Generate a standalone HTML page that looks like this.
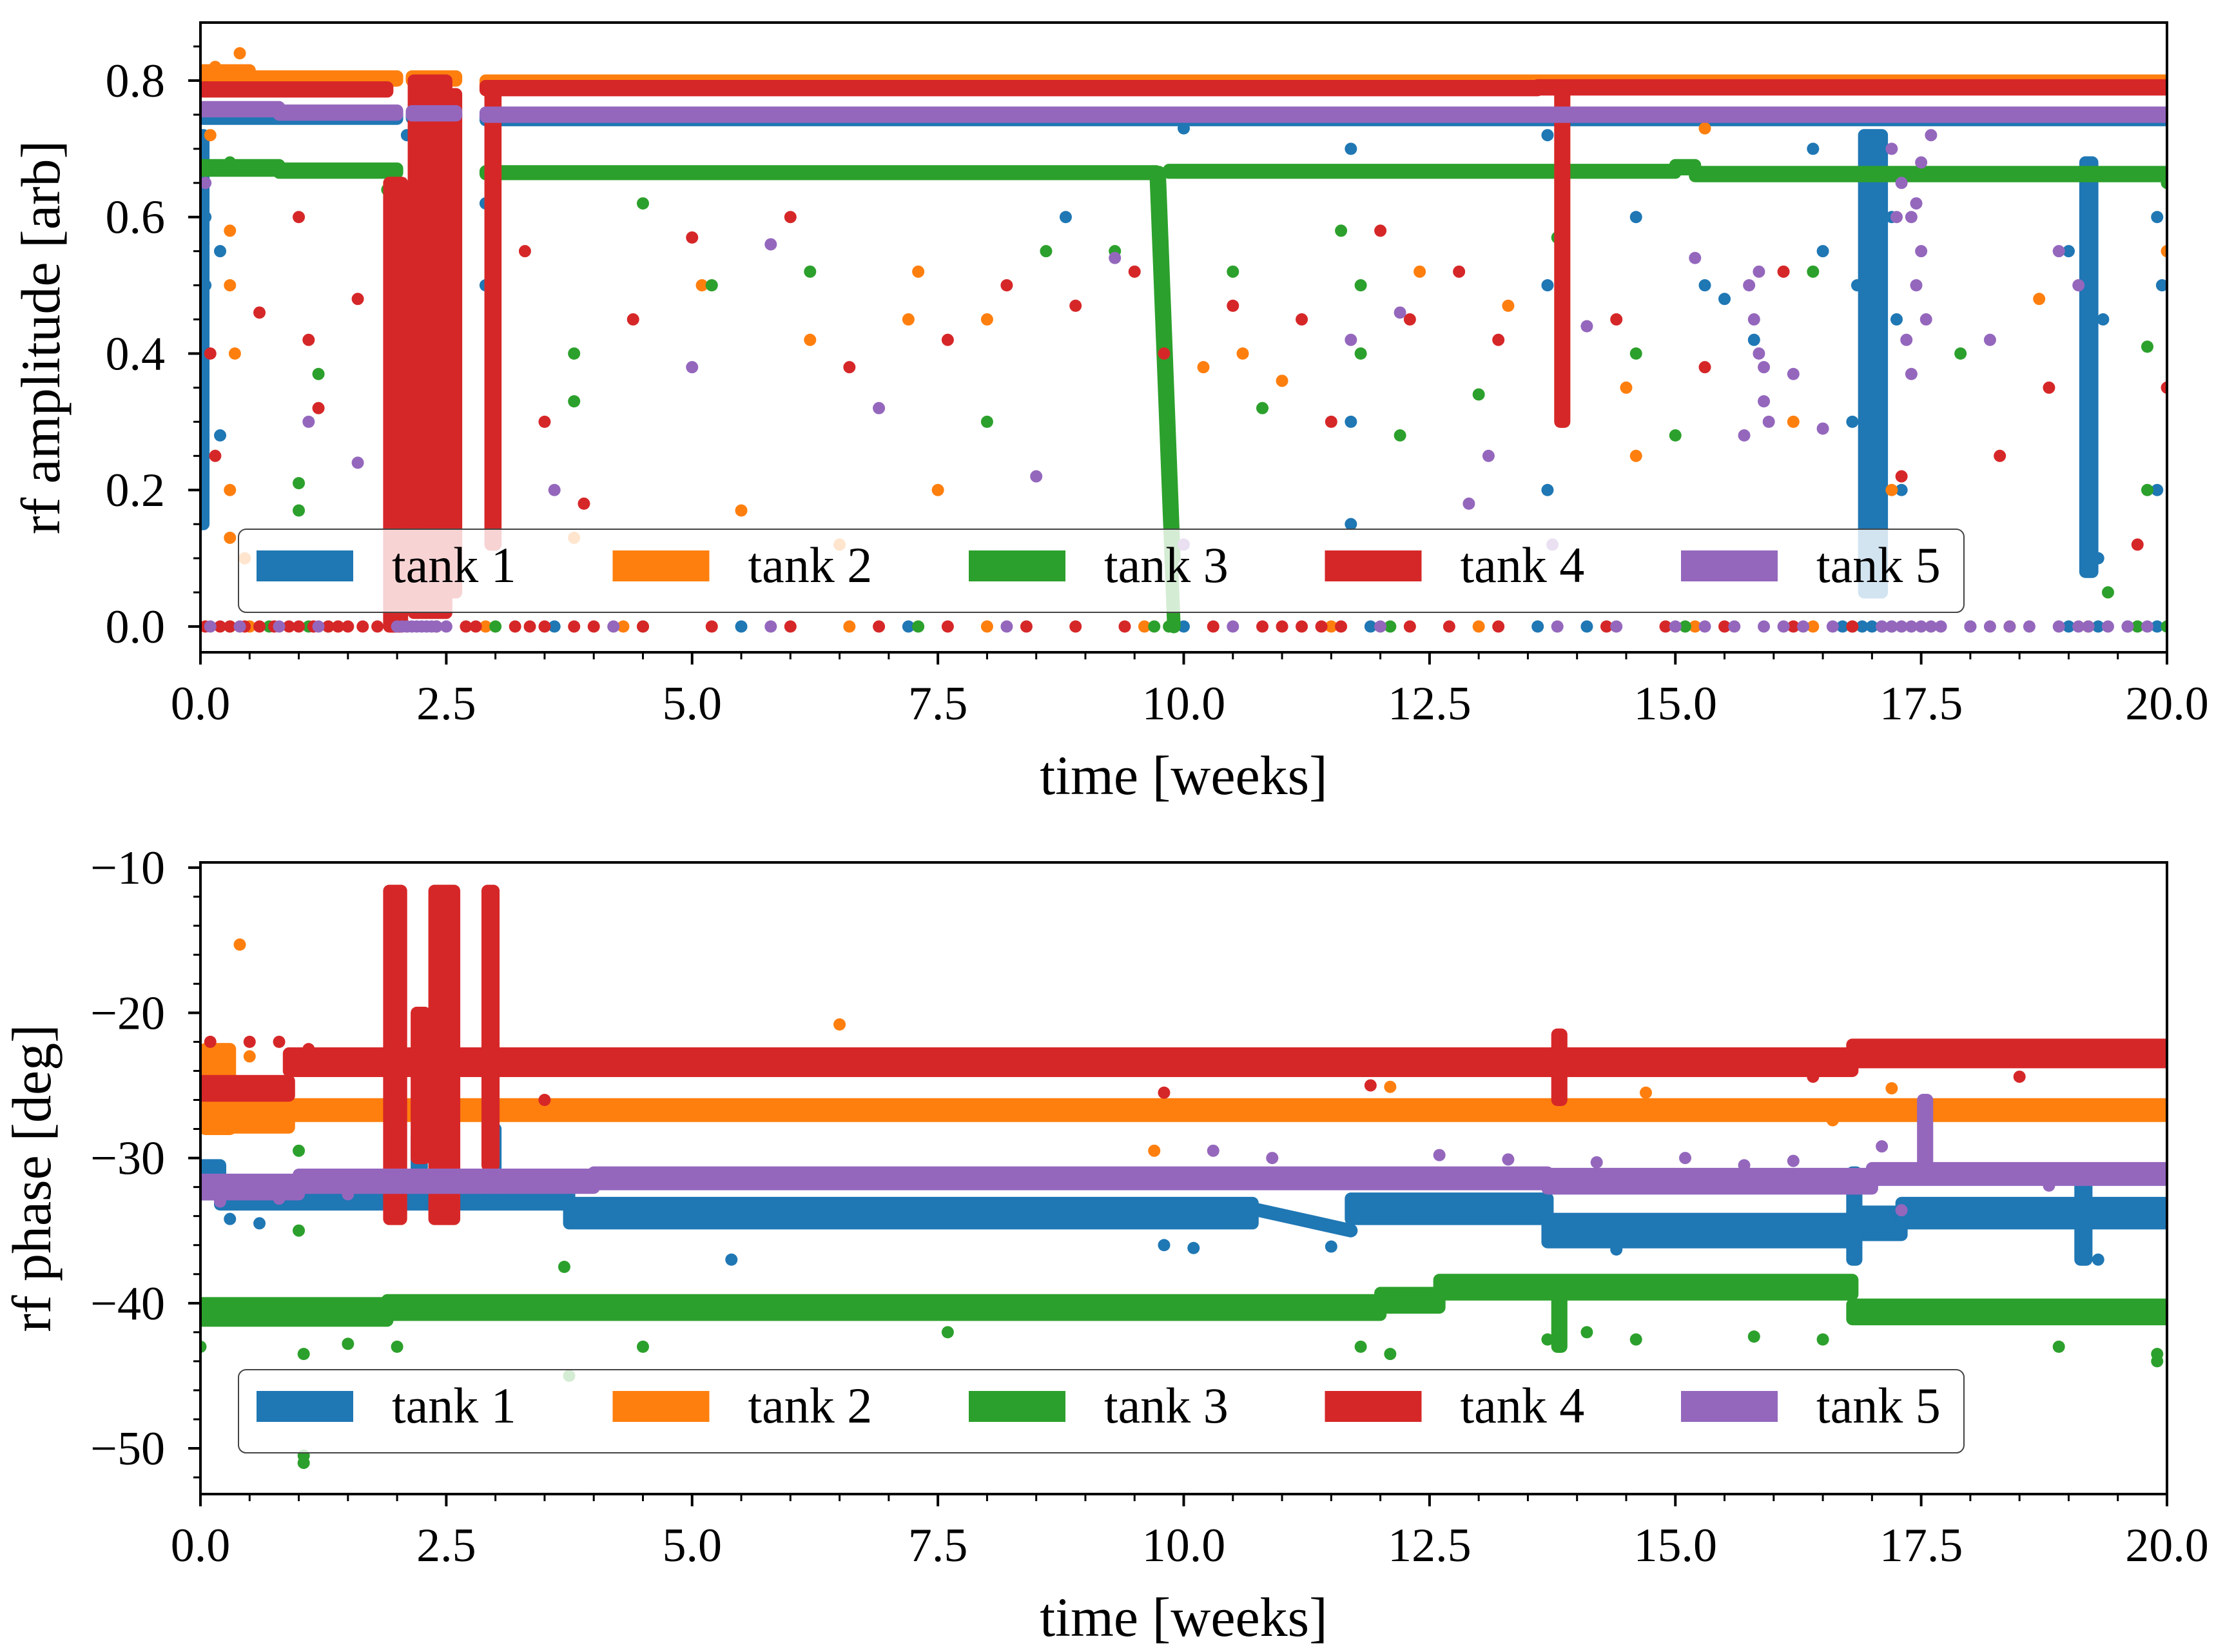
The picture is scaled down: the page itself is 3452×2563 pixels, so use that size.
<!DOCTYPE html>
<html><head><meta charset="utf-8"><style>
html,body{margin:0;padding:0;background:#fff;}
svg{display:block;}
text{font-family:"Liberation Serif",serif;fill:#000;}
</style></head>
<body>
<svg id="fig" width="3452" height="2563" viewBox="0 0 3452 2563" xmlns="http://www.w3.org/2000/svg">
<rect x="0" y="0" width="3452" height="2563" fill="#fff"/>
</svg>
<script>
// ---------- data ----------
const tankNames = ["tank 1","tank 2","tank 3","tank 4","tank 5"];
const tankColors = ["#1f77b4","#ff7f0e","#2ca02c","#d62728","#9467bd"];
const xTicks = [0,2.5,5,7.5,10,12.5,15,17.5,20];
const xTickLabels = ["0.0","2.5","5.0","7.5","10.0","12.5","15.0","17.5","20.0"];
const ampTicks = [0,0.2,0.4,0.6,0.8];
const ampTickLabels = ["0.0","0.2","0.4","0.6","0.8"];
const phTicks = [-50,-40,-30,-20,-10];
const phTickLabels = ["\u221250","\u221240","\u221230","\u221220","\u221210"];

// amplitude: horizontal bands [tank, t0, t1, level, halfwidth]
const ampBands = [
 [0,0,2.0,0.747,0.003],[0,2.15,2.6,0.748,0.003],[0,2.9,20,0.745,0.003],
 [1,0,0.5,0.805,0.01],[1,0.5,2.0,0.803,0.003],[1,2.15,2.6,0.803,0.003],[1,2.9,20,0.797,0.003],
 [2,0,0.8,0.672,0.004],[2,0.8,2.0,0.668,0.003],[2,2.9,9.72,0.665,0.002],[2,9.85,15.0,0.667,0.002],[2,15.0,15.2,0.673,0.003],[2,15.2,20,0.663,0.003],
 [3,0,1.9,0.787,0.003],[3,2.9,13.6,0.789,0.003],[3,13.6,20,0.79,0.003],
 [4,0,0.8,0.758,0.003],[4,0.8,2.0,0.753,0.003],[4,2.15,2.6,0.752,0.003],[4,2.9,20,0.75,0.003]
];
// amplitude: vertical bursts [tank, t0, t1, ymin, ymax]
const ampBursts = [
 [3,1.92,2.05,0.0,0.65],[3,2.17,2.5,0.02,0.8],[3,2.3,2.6,0.05,0.78],[3,2.95,3.0,0.12,0.78],
 [3,13.83,13.87,0.3,0.79],[0,16.92,17.1,0.05,0.72],[0,19.17,19.24,0.08,0.68],[0,0.0,0.03,0.15,0.72]
];
// amplitude: line segments (tank, t0, y0, t1, y1)
const ampLines = [[2,9.72,0.665,9.9,0.0],[2,9.75,0.665,9.9,0.1]];
// amplitude: isolated points per tank  [t, value]
const ampPts0 = [[0.05,0.6],[0.05,0.5],[0.2,0.55],[0.2,0.28],[2.1,0.72],[2.1,0.5],[2.9,0.62],[2.9,0.5],[8.8,0.6],[10,0.73],[11.7,0.15],[11.7,0.3],[11.7,0.7],[13.7,0.2],[13.7,0.5],[13.7,0.72],[15.3,0.5],[15.5,0.48],[16.5,0.55],[16.4,0.7],[15.8,0.42],[14.6,0.6],[19.9,0.2],[19.95,0.5],[19.9,0.6],[16.8,0.3],[17.2,0.6],[17.3,0.2],[19.0,0.55],[19.3,0.1],[19.35,0.45],[16.85,0.5],[17.25,0.45]];
const ampPts1 = [[0.1,0.72],[0.3,0.58],[0.3,0.5],[0.35,0.4],[0.3,0.2],[0.3,0.13],[0.45,0.1],[0.15,0.82],[0.4,0.84],[5.1,0.5],[6.2,0.42],[6.5,0.12],[7.2,0.45],[7.3,0.52],[7.5,0.2],[8.0,0.45],[10.2,0.38],[10.6,0.4],[11.0,0.36],[12.4,0.52],[13.3,0.47],[14.5,0.35],[14.6,0.25],[15.3,0.73],[16.2,0.3],[17.2,0.2],[18.7,0.48],[20,0.55],[5.5,0.17],[3.8,0.13]];
const ampPts2 = [[0.3,0.68],[1.0,0.21],[1.0,0.17],[1.2,0.37],[1.9,0.64],[3.8,0.4],[3.8,0.33],[4.5,0.62],[5.2,0.5],[6.2,0.52],[8.0,0.3],[8.6,0.55],[9.3,0.55],[10.5,0.52],[10.8,0.32],[11.6,0.58],[11.8,0.5],[11.8,0.4],[12.2,0.28],[13.0,0.34],[13.8,0.57],[14.6,0.4],[15.0,0.28],[16.4,0.52],[17.9,0.4],[19.4,0.05],[19.8,0.41],[19.8,0.2],[20,0.65]];
const ampPts3 = [[0.1,0.4],[0.15,0.25],[0.6,0.46],[1.0,0.6],[1.1,0.42],[1.2,0.32],[1.6,0.48],[3.3,0.55],[3.5,0.3],[3.9,0.18],[4.4,0.45],[5.0,0.57],[6.0,0.6],[6.6,0.38],[7.6,0.42],[8.2,0.5],[8.9,0.47],[9.5,0.52],[9.8,0.4],[10.5,0.47],[11.2,0.45],[11.5,0.3],[12.0,0.58],[12.3,0.45],[12.8,0.52],[13.2,0.42],[14.4,0.45],[15.3,0.38],[16.1,0.52],[17.3,0.22],[18.3,0.25],[18.8,0.35],[19.7,0.12],[20,0.35]];
const ampPts4 = [[0.05,0.65],[1.1,0.3],[1.6,0.24],[3.6,0.2],[5.0,0.38],[5.8,0.56],[6.9,0.32],[8.5,0.22],[9.3,0.54],[10.0,0.12],[11.7,0.42],[12.2,0.46],[13.1,0.25],[14.1,0.44],[15.2,0.54],[15.9,0.33],[16.2,0.37],[16.5,0.29],[17.4,0.37],[18.2,0.42],[18.9,0.55],[19.1,0.5],[13.75,0.12],[12.9,0.18],
 [15.75,0.5],[15.8,0.45],[15.85,0.4],[15.9,0.38],[15.95,0.3],[15.7,0.28],[15.85,0.52],[17.2,0.7],[17.3,0.65],[17.4,0.6],[17.5,0.55],[17.45,0.5],[17.55,0.45],[17.35,0.42],[17.5,0.68],[17.6,0.72],[17.25,0.6],[17.45,0.62]];
// zero-value dots per tank (times)
const ampZeros0 = [3.6,5.5,7.2,10.0,11.9,13.6,14.1,16.9,17.0,17.2,19.0,19.3,19.6,19.9,16.7,17.1,18.0];
const ampZeros1 = [0.3,1.4,4.3,6.6,8.0,9.6,11.5,13.0,15.2,16.4,18.4,19.2,0.5,2.9];
const ampZeros2 = [0.3,0.7,1.1,1.3,3.0,4.5,7.3,9.7,9.85,12.1,15.1,16.8,19.7,20];
const ampZeros3 = [0.05,0.2,0.3,0.45,0.6,0.75,0.9,1.0,1.15,1.3,1.4,1.5,1.65,1.8,2.1,2.4,2.7,2.8,3.2,3.35,3.5,3.8,4.0,4.5,5.2,6.0,6.9,7.6,8.4,8.9,9.4,10.3,10.8,11.0,11.2,11.4,11.6,12.3,12.7,13.2,14.3,14.9,15.5,16.2,16.8];
const ampZeros4 = [0.1,0.4,0.8,1.2,2.0,2.05,2.1,2.15,2.2,2.25,2.3,2.35,2.4,2.5,4.2,5.8,8.2,10.5,12.0,13.8,14.4,15.0,15.3,15.6,15.9,16.1,16.3,16.6,17.1,17.2,17.3,17.4,17.5,17.6,17.7,18.0,18.2,18.4,18.6,18.9,19.1,19.2,19.4,19.6,19.8];

// phase: horizontal bands [tank, t0, t1, level, halfwidth]
const phBands = [
 [0,0.0,0.2,-31.5,1.0],[0,0.2,3.75,-32.6,0.6],[0,3.75,10.7,-33.8,0.7],[0,11.7,13.7,-33.5,0.7],[0,13.7,16.8,-35.0,0.8],[0,16.8,17.3,-34.5,0.8],[0,17.3,20,-33.8,0.7],
 [1,0,0.9,-27.0,0.9],[1,0.9,20,-26.7,0.4],
 [2,0,1.9,-40.6,0.6],[2,1.9,12.0,-40.3,0.5],[2,12.0,12.6,-39.8,0.5],[2,12.6,16.8,-38.9,0.5],[2,16.8,20,-40.6,0.5],
 [3,0,0.9,-25.2,0.5],[3,0.9,16.8,-23.4,0.6],[3,16.8,20,-22.8,0.6],
 [4,0,1.0,-32.0,0.5],[4,1.0,4.0,-31.6,0.45],[4,4.0,13.7,-31.4,0.4],[4,13.7,17.0,-31.6,0.5],[4,17.0,20,-31.1,0.4]
];
const phBursts = [
 [3,1.92,2.04,-34.2,-11.6],[3,2.38,2.58,-34.2,-11.6],[3,2.92,2.98,-30.5,-11.6],[3,2.2,2.28,-30,-20],
 [1,0.05,0.3,-28,-22.5],[0,2.2,2.25,-32.5,-28.5],[0,2.95,3.0,-33,-28],
 [4,17.52,17.56,-31,-26.0],[0,19.12,19.18,-37,-31],[0,16.8,16.84,-37,-31],[2,13.8,13.84,-43,-38.5],[3,13.8,13.84,-26,-21.5]
];
const phLines = [[0,10.7,-33.5,11.7,-35.0]];
const phPts0 = [[0.6,-34.5],[0.3,-34.2],[1.9,-32],[5.4,-37],[9.8,-36],[10.1,-36.2],[11.5,-36.1],[14.4,-36.3],[16.5,-35.6],[19.3,-37]];
const phPts1 = [[0.4,-15.3],[0.5,-23],[6.5,-20.8],[9.7,-29.5],[12.1,-25.1],[14.7,-25.5],[16.6,-27.4],[17.2,-25.2]];
const phPts2 = [[0.0,-43],[1.0,-29.5],[1.0,-31.5],[1.0,-35],[1.05,-43.5],[1.05,-51],[1.05,-50.5],[1.5,-42.8],[2.0,-43],[3.7,-37.5],[3.75,-45],[4.5,-43],[7.6,-42],[11.8,-43],[12.1,-43.5],[13.7,-42.5],[14.1,-42],[14.6,-42.5],[15.8,-42.3],[16.5,-42.5],[18.9,-43],[19.9,-43.5],[19.9,-44]];
const phPts3 = [[0.1,-22],[0.5,-22],[0.8,-22],[1.1,-22.5],[1.6,-23],[3.5,-26],[9.8,-25.5],[11.9,-25],[16.4,-24.4],[18.5,-24.4]];
const phPts4 = [[0.2,-33],[0.8,-32.8],[1.5,-32.5],[10.3,-29.5],[10.9,-30],[12.6,-29.8],[13.3,-30.1],[14.2,-30.3],[15.1,-30],[15.7,-30.5],[16.2,-30.2],[17.3,-33.6],[17.1,-29.2],[18.8,-31.9]];

// ---------- layout ----------
const svg = document.getElementById('fig');
const NS = "http://www.w3.org/2000/svg";
const X0 = 311, X1 = 3362;
const R = 9.5;
function xs(t){ return X0 + (t - 0) / 20 * (X1 - X0); }
const P1 = {top:35, bottom:1012, vmin:-0.0378, vmax:0.885};
const P2 = {top:1338, bottom:2318, vmin:-53.15, vmax:-9.64};
function ys(P, v){ return P.bottom - (v - P.vmin) / (P.vmax - P.vmin) * (P.bottom - P.top); }
function mk(tag, attrs, parent){
  const e = document.createElementNS(NS, tag);
  for (const k in attrs) e.setAttribute(k, attrs[k]);
  (parent || svg).appendChild(e);
  return e;
}

function drawPanel(P, name, bands, bursts, lines, ptsList, zerosList, yTicks, yTickLabels, minorStep, yTitle, yTitleX){
  const g = mk('g', {});
  
  
  const clipId = name + '-clip';
  const cp = mk('clipPath', {id: clipId}, g);
  mk('rect', {x: X0, y: P.top, width: X1 - X0, height: P.bottom - P.top}, cp);
  for (let k = 0; k < 5; k++){
    const sg = mk('g', {'clip-path': 'url(#' + clipId + ')', fill: tankColors[k], stroke: 'none'}, g);
    
    
    bands.filter(b => b[0] === k).forEach(b => {
      const y1 = ys(P, b[3] + b[4]) - R, y2 = ys(P, b[3] - b[4]) + R;
      const r = mk('rect', {x: xs(b[1]) - R, y: y1, width: xs(b[2]) - xs(b[1]) + 2*R, height: y2 - y1, rx: R}, sg);
      
      
    });
    bursts.filter(b => b[0] === k).forEach(b => {
      const y1 = ys(P, b[4]) - R, y2 = ys(P, b[3]) + R;
      const r = mk('rect', {x: xs(b[1]) - R, y: y1, width: xs(b[2]) - xs(b[1]) + 2*R, height: y2 - y1, rx: R}, sg);
      
      
    });
    lines.filter(l => l[0] === k).forEach(l => {
      const ln = mk('line', {x1: xs(l[1]), y1: ys(P, l[2]), x2: xs(l[3]), y2: ys(P, l[4]), stroke: tankColors[k], 'stroke-width': 2*R + 2, 'stroke-linecap': 'round'}, sg);
      
      
    });
    ptsList[k].forEach(p => {
      const c = mk('circle', {cx: xs(p[0]), cy: ys(P, p[1]), r: R}, sg);
      
      
    });
    (zerosList ? zerosList[k] : []).forEach(t => {
      const c = mk('circle', {cx: xs(t), cy: ys(P, 0), r: R}, sg);
      
      
    });
  }
  const fr = mk('rect', {x: X0, y: P.top, width: X1 - X0, height: P.bottom - P.top, fill: 'none', stroke: '#000', 'stroke-width': 4});
  
  
  const xg = mk('g', {});
  
  
  for (let t = 0; t <= 20.001; t += 0.5){
    const major = Math.abs(t/2.5 - Math.round(t/2.5)) < 1e-6;
    mk('line', {x1: xs(t), x2: xs(t), y1: P.bottom, y2: P.bottom + (major ? 19 : 11), stroke: '#000', 'stroke-width': major ? 4 : 3}, xg);
  }
  xTicks.forEach((t, i) => {
    const tx = mk('text', {x: xs(t), y: P.bottom + 104, 'font-size': 74, 'text-anchor': 'middle'}, xg);
    tx.textContent = xTickLabels[i];
    
    
  });
  const xt = mk('text', {x: (X0+X1)/2, y: P.bottom + 220, 'font-size': 86, 'text-anchor': 'middle'});
  xt.textContent = 'time [weeks]';
  
  
  const yg = mk('g', {});
  
  
  const lo = Math.ceil(P.vmin / minorStep), hi = Math.floor(P.vmax / minorStep);
  for (let i = lo; i <= hi; i++){
    const v = i * minorStep;
    const major = yTicks.some(tk => Math.abs(tk - v) < minorStep * 0.01);
    mk('line', {x1: X0, x2: X0 - (major ? 19 : 11), y1: ys(P, v), y2: ys(P, v), stroke: '#000', 'stroke-width': major ? 4 : 3}, yg);
  }
  yTicks.forEach((v, i) => {
    const tx = mk('text', {x: 256, y: ys(P, v) + 25, 'font-size': 74, 'text-anchor': 'end'}, yg);
    tx.textContent = yTickLabels[i];
    
    
  });
  const cy = (P.top + P.bottom) / 2;
  const yt = mk('text', {x: yTitleX, y: cy, 'font-size': 86, 'text-anchor': 'middle', transform: 'rotate(-90 ' + yTitleX + ' ' + cy + ')'});
  yt.textContent = yTitle;
  
  
}

function drawLegend(name, top){
  const lg = mk('g', {});
  
  
  const box = mk('rect', {x: 370, y: top, width: 2677, height: 129, rx: 12, fill: '#fff', 'fill-opacity': 0.8, stroke: '#444', 'stroke-width': 2}, lg);
  
  
  const cy = top + 57;
  for (let k = 0; k < 5; k++){
    const x = 398 + k * 552.5;
    const eg = mk('g', {}, lg);
    
    
    mk('rect', {x: x, y: cy - 24, width: 150, height: 48, fill: tankColors[k]}, eg);
    const t = mk('text', {x: x + 210, y: cy + 25, 'font-size': 78}, eg);
    t.textContent = tankNames[k];
  }
}

drawPanel(P1, 'amplitude', ampBands, ampBursts, ampLines,
  [ampPts0, ampPts1, ampPts2, ampPts3, ampPts4],
  [ampZeros0, ampZeros1, ampZeros2, ampZeros3, ampZeros4],
  ampTicks, ampTickLabels, 0.05, 'rf amplitude [arb]', 92);
drawLegend('amplitude', 821);
drawPanel(P2, 'phase', phBands, phBursts, phLines,
  [phPts0, phPts1, phPts2, phPts3, phPts4],
  null, phTicks, phTickLabels, 2, 'rf phase [deg]', 78);
drawLegend('phase', 2125);
</script>
</body></html>
